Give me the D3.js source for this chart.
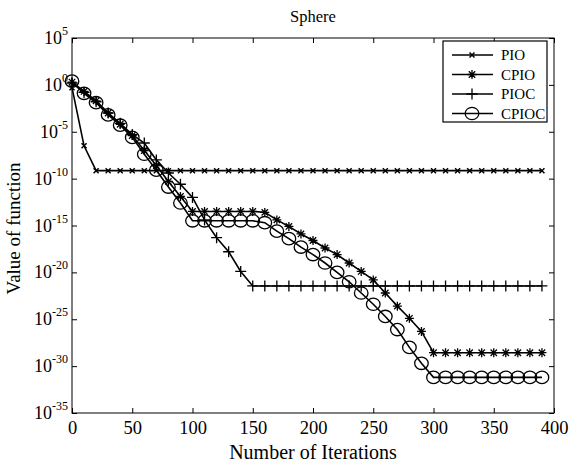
<!DOCTYPE html>
<html><head><meta charset="utf-8">
<script src="https://cdn.jsdelivr.net/npm/d3@7"></script>
<style>body{margin:0;background:#fff}svg{display:block}text{font-family:"Liberation Serif","Times New Roman",serif;fill:#000}</style>
</head><body><div id="chart"></div>
<script>
const iterations = d3.range(0, 400, 10);
// log10 values
const pio = [-0.3, -6.5].concat(d3.range(20, 400, 10).map(() => -9.15));
const cpio = [0.3,-0.7,-1.7,-3.0,-4.2,-5.4,-7.0,-8.6,-10.3,-11.9,-13.5,-13.5,-13.5,-13.5,-13.5,-13.5,-13.6,-14.4,-15.1,-15.9,-16.6,-17.4,-18.1,-19.0,-19.9,-20.8,-22.2,-23.6,-24.9,-26.3,-28.57,-28.57,-28.57,-28.57,-28.57,-28.57,-28.57,-28.57,-28.57,-28.57];
const pioc = [0.2,-0.8,-1.8,-3.0,-4.1,-5.3,-6.2,-8.0,-9.4,-10.6,-12.0,-14.4,-16.3,-17.8,-19.9,-21.45,-21.45,-21.45,-21.45,-21.45,-21.45,-21.45,-21.45,-21.45,-21.45,-21.45,-21.45,-21.45,-21.45,-21.45,-21.45,-21.45,-21.45,-21.45,-21.45,-21.45,-21.45,-21.45,-21.45,-21.45];
const cpioc = [0.4,-0.9,-1.9,-3.2,-4.3,-5.6,-7.4,-9.1,-10.9,-12.6,-14.5,-14.5,-14.5,-14.5,-14.5,-14.5,-14.7,-15.6,-16.4,-17.3,-18.1,-19.0,-20.0,-21.0,-22.2,-23.4,-24.7,-26.1,-28.0,-29.7,-31.2,-31.2,-31.2,-31.2,-31.2,-31.2,-31.2,-31.2,-31.2,-31.2];
const seriesNames = ["PIO", "CPIO", "PIOC", "CPIOC"];
const markers = ["x", "star", "plus", "circle"];
const xTicks = [0,50,100,150,200,250,300,350,400];
const yTickExps = [5,0,-5,-10,-15,-20,-25,-30,-35];

const W = 575, H = 466;
const m = {l:72, r:21, t:38, b:53};
const svg = d3.select("#chart").append("svg").attr("width", W).attr("height", H);
const x = d3.scaleLinear().domain([0,400]).range([m.l, W - m.r]);
const y = d3.scaleLog().domain([1e-35, 1e5]).range([H - m.b, m.t]);

// frame
svg.append("rect").attr("x", m.l).attr("y", m.t).attr("width", W-m.r-m.l).attr("height", H-m.b-m.t)
  .attr("fill","none").attr("stroke","#000").attr("stroke-width",1);

const axB = svg.append("g").attr("transform",`translate(0,${H-m.b})`)
  .call(d3.axisBottom(x).tickValues(xTicks).tickSize(-5).tickPadding(8).tickFormat(d3.format("d")));
const axT = svg.append("g").attr("transform",`translate(0,${m.t})`)
  .call(d3.axisTop(x).tickValues(xTicks).tickSize(-5).tickFormat(""));
const yTickVals = yTickExps.map(e => Math.pow(10, e));
const axL = svg.append("g").attr("transform",`translate(${m.l},0)`)
  .call(d3.axisLeft(y).tickValues(yTickVals).tickSize(-5).tickPadding(5).tickFormat(""));
const axR = svg.append("g").attr("transform",`translate(${W-m.r},0)`)
  .call(d3.axisRight(y).tickValues(yTickVals).tickSize(-5).tickFormat(""));
[axB,axT,axL,axR].forEach(a => { a.select(".domain").remove(); a.selectAll("line").attr("stroke","#000"); a.attr("font-family", null); });
axB.selectAll("text").style("font-family","Liberation Serif").style("font-size","18.5px").attr("fill","#000");

// y tick labels with superscripts
yTickExps.forEach(e => {
  const t = svg.append("text").attr("x", m.l - 4).attr("y", y(Math.pow(10,e)) + 6)
    .attr("text-anchor","end").style("font-size","18px");
  t.append("tspan").text("10");
  t.append("tspan").attr("dy", -9).style("font-size","12px").text(String(e));
});

// lines
const allSeries = [pio, cpio, pioc, cpioc];
const line = d3.line().x((d,i) => x(iterations[i])).y(d => y(Math.pow(10, d)));

function drawMarker(g, type, cx, cy) {
  if (type === "x") {
    const s = 2.5;
    g.append("path").attr("d",`M${cx-s},${cy-s}L${cx+s},${cy+s}M${cx-s},${cy+s}L${cx+s},${cy-s}`)
      .attr("stroke","#000").attr("stroke-width",1.5);
  } else if (type === "star") {
    const s = 4.5, d = 3.2;
    g.append("path").attr("d",`M${cx-s},${cy}L${cx+s},${cy}M${cx},${cy-s}L${cx},${cy+s}M${cx-d},${cy-d}L${cx+d},${cy+d}M${cx-d},${cy+d}L${cx+d},${cy-d}`)
      .attr("stroke","#000").attr("stroke-width",1.3);
  } else if (type === "plus") {
    const s = 5.5;
    g.append("path").attr("d",`M${cx-s},${cy}L${cx+s},${cy}M${cx},${cy-s}L${cx},${cy+s}`)
      .attr("stroke","#000").attr("stroke-width",1.3);
  } else {
    g.append("ellipse").attr("cx",cx).attr("cy",cy).attr("rx",6.8).attr("ry",6.2)
      .attr("fill","none").attr("stroke","#000").attr("stroke-width",1.3);
  }
}

allSeries.forEach((s, k) => {
  const g = svg.append("g");
  g.append("path").datum(s).attr("d", line).attr("fill","none").attr("stroke","#000").attr("stroke-width",1.6);
  s.forEach((v, i) => drawMarker(g, markers[k], x(iterations[i]), y(Math.pow(10, v))));
});

// legend
const lg = svg.append("g");
lg.append("rect").attr("x",443).attr("y",41).attr("width",104).attr("height",81)
  .attr("fill","#fff").attr("stroke","#000").attr("stroke-width",1.2);
seriesNames.forEach((n, k) => {
  const yy = 55 + k*19.5;
  lg.append("line").attr("x1",452).attr("x2",493).attr("y1",yy).attr("y2",yy).attr("stroke","#000").attr("stroke-width",1.6);
  drawMarker(lg, markers[k], 472, yy);
  lg.append("text").attr("x",501).attr("y",yy+5).style("font-size","15px").text(n);
});

// titles
svg.append("text").attr("x",(m.l + W - m.r)/2).attr("y",22).attr("text-anchor","middle").style("font-size","16.5px").text("Sphere");
svg.append("text").attr("x",(m.l + W - m.r)/2).attr("y",459).attr("text-anchor","middle").style("font-size","20px").text("Number of Iterations");
svg.append("text").attr("transform",`translate(20,${(m.t + H - m.b)/2 + 3}) rotate(-90)`).attr("text-anchor","middle").style("font-size","19px").text("Value of function");
</script></body></html>
